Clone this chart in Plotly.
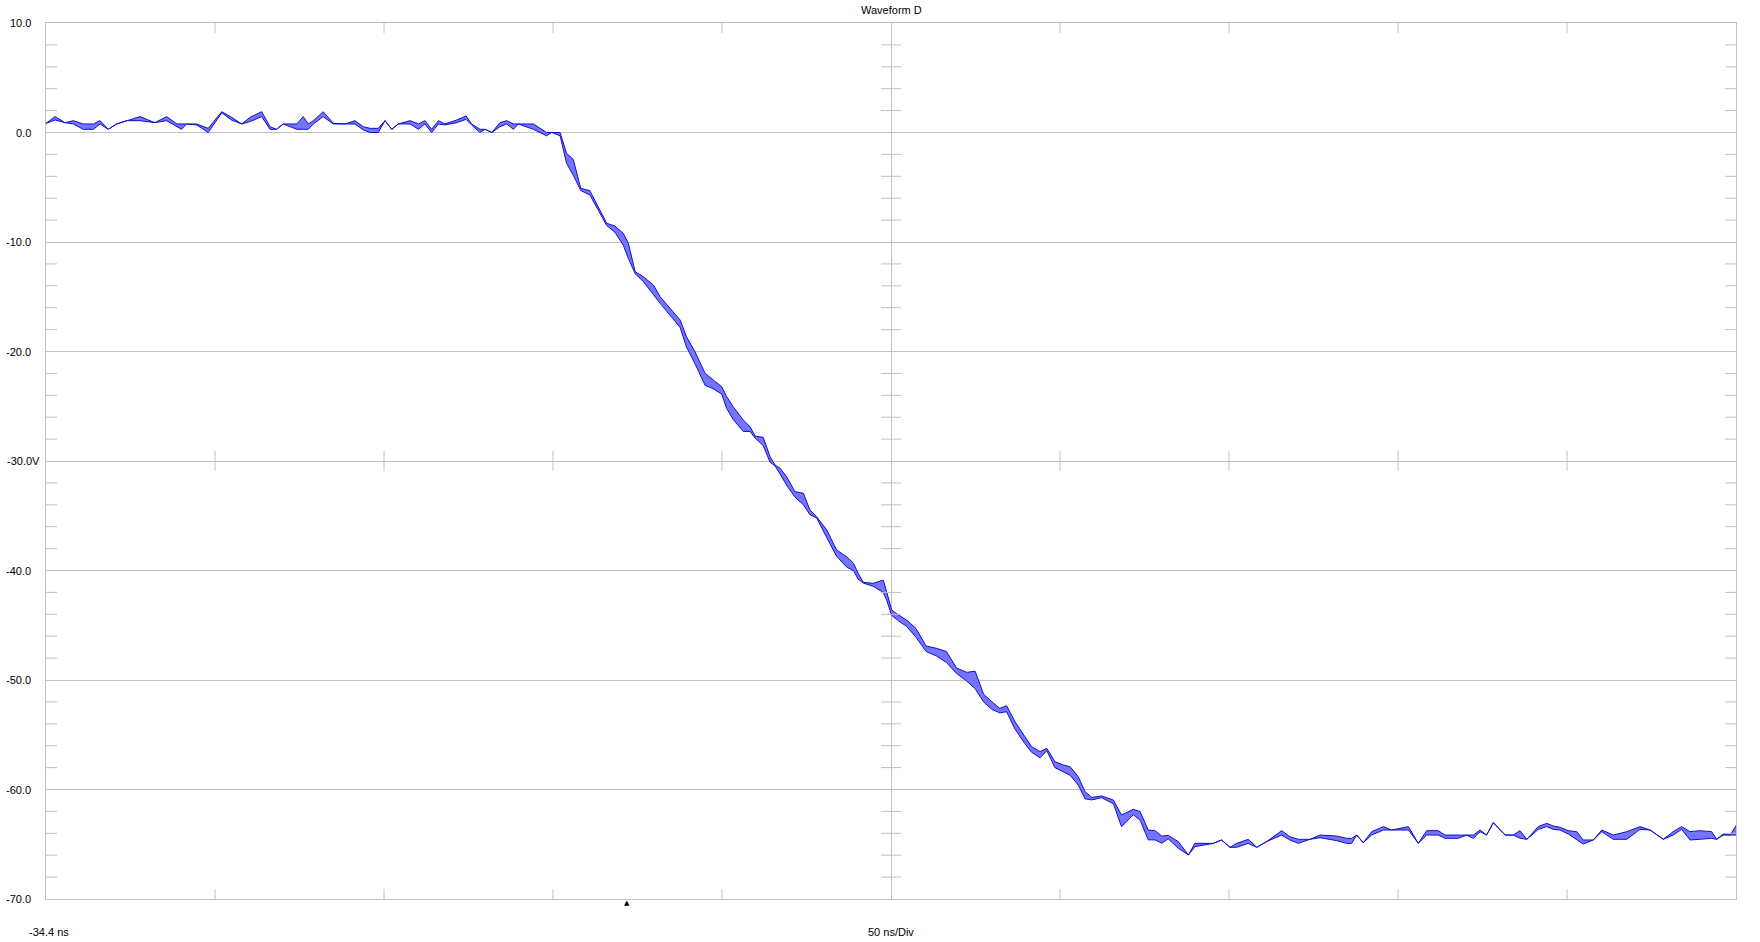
import plotly.graph_objects as go

# screen setup: -34.4 ns at left edge, 50 ns/div, 10 divisions; 10 V/div from 10 V to -70 V
t_start = -34.4
ns_per_div = 50
n_xdiv = 10
y_values = [10, 0, -10, -20, -30, -40, -50, -60, -70]
y_labels = ["10.0", "0.0", "-10.0", "-20.0", "-30.0V", "-40.0", "-50.0", "-60.0", "-70.0"]
trigger_ns = 137.5

# envelope of waveform D (max / min per sample)
# --- baseline before the edge
t_high = [-34.4, -31.7, -28.8, -26.3, -23.4, -20.4, -18.4, -16.0, -13.5, -10.5, -6.6, -2.2, 1.3,
          4.3, 5.7, 7.2, 10.2, 13.6, 17.6, 20.5, 23.5, 26.0, 29.4, 31.9, 33.8, 35.8, 39.8, 41.7,
          43.2, 44.7, 47.6, 50.6, 54.1, 57.0, 59.5, 61.5, 63.9, 65.9, 67.9, 69.8, 73.3, 75.8,
          77.7, 79.7, 81.7, 83.6, 87.1, 89.9, 91.5, 94.0, 95.5, 97.5, 99.9, 101.9, 103.9, 105.3,
          109.8, 113.7, 115.2, 117.7]
vmax_high = [0.84, 1.45, 0.90, 1.08, 0.78, 0.78, 1.08, 0.29, 0.78, 1.08, 1.45, 0.90, 1.45,
             0.78, 0.78, 0.78, 0.78, 0.38, 1.90, 1.39, 0.78, 1.39, 1.90, 0.53, 0.29, 0.78, 0.78, 1.45,
             0.78, 1.08, 1.90, 0.84, 0.78, 1.08, 0.53, 0.38, 0.38, 1.08, 0.29, 0.78, 1.08, 0.78,
             1.08, 0.29, 1.08, 0.78, 1.14, 1.51, 0.78, 0.29, 0.29, 0.00, 0.90, 1.08, 0.78, 0.78,
             0.78, 0.00, 0.00, 0.00]
vmin_high = [0.84, 1.14, 0.90, 0.78, 0.29, 0.29, 0.78, 0.29, 0.78, 1.08, 1.08, 0.90, 1.08,
             0.53, 0.29, 0.78, 0.69, 0.00, 1.80, 1.14, 0.78, 1.00, 1.45, 0.29, 0.29, 0.78, 0.29, 0.29,
             0.29, 0.78, 1.45, 0.78, 0.78, 0.78, 0.23, 0.00, 0.00, 1.08, 0.29, 0.78, 0.78, 0.29,
             0.78, 0.00, 0.78, 0.69, 0.90, 1.20, 0.69, 0.00, 0.29, 0.00, 0.53, 0.78, 0.29, 0.78,
             0.29, -0.30, 0.00, -0.30]

# --- falling edge
t_edge = [119.6, 121.6, 123.8, 126.5, 131.5, 133.9, 136.4, 137.9, 139.9, 142.3, 145.3, 147.3,
          153.2, 155.1, 157.6, 160.6, 163.0, 165.5, 167.0, 168.9, 171.9, 173.9, 175.4, 177.8,
          179.8, 181.3, 182.8, 184.7, 187.2, 189.7, 191.6, 193.6, 196.6, 199.5, 202.5, 204.5,
          205.9, 207.4, 210.4, 213.3, 214.3, 215.8, 217.8, 220.2, 223.0, 226.0, 229.0, 232.0,
          235.0, 238.0, 240.5, 243.0, 245.5, 247.8, 249.8, 252.3, 255.2, 257.2, 259.7, 261.7,
          264.1, 266.6, 268.6, 271.0, 273.0, 275.0, 277.9, 281.4, 283.8, 287.3, 289.3, 291.7,
          293.7, 295.7, 297.6]
vmax_edge = [-1.90, -2.45, -5.10, -5.31, -8.29, -8.54, -9.21, -10.12, -12.71, -13.17, -13.93, -15.00,
             -17.12, -18.65, -20.02, -21.99, -22.60, -23.21, -24.13, -25.04, -26.26, -26.87, -27.72, -27.84,
             -29.60, -30.37, -30.67, -31.43, -32.80, -32.95, -34.47, -35.08, -36.30, -38.13, -38.74, -39.34,
             -40.26, -41.08, -41.17, -40.87, -41.93, -43.61, -44.06, -44.52, -45.30, -46.90, -47.10, -47.40,
             -48.90, -49.30, -49.20, -51.30, -52.00, -52.59, -52.35, -53.81, -55.17, -56.09, -56.54, -56.24,
             -57.46, -57.76, -57.92, -58.83, -60.20, -60.72, -60.59, -60.96, -62.33, -61.81, -62.02, -63.70,
             -63.76, -64.25, -64.19]
vmin_edge = [-2.80, -3.90, -5.30, -5.70, -8.50, -9.10, -10.30, -11.50, -12.90, -13.60, -14.80, -15.60,
             -17.80, -19.60, -21.10, -23.10, -23.40, -23.90, -25.20, -26.20, -27.30, -27.30, -27.90, -28.60,
             -30.10, -30.45, -31.20, -32.20, -33.30, -34.00, -34.90, -35.20, -37.00, -38.70, -39.70, -40.00,
             -40.80, -41.15, -41.45, -42.00, -42.70, -44.10, -44.60, -45.10, -46.10, -47.40, -47.80, -48.40,
             -49.40, -50.10, -50.80, -52.00, -52.70, -53.00, -52.90, -54.50, -55.80, -56.60, -57.10, -56.45,
             -58.00, -58.40, -58.70, -59.60, -60.85, -60.95, -60.75, -61.30, -63.40, -62.30, -62.80, -64.60,
             -64.60, -64.90, -64.50]

# --- baseline after the edge
t_low = [300.6, 303.6, 305.5, 311.0, 313.4, 315.9, 317.9, 321.3, 323.8, 326.7, 331.2, 333.6, 336.1,
         339.6, 342.5, 347.5, 350.4, 351.9, 353.4, 355.3, 357.8, 361.3, 363.7, 368.7, 371.6, 374.1,
         377.5, 379.5, 383.4, 385.9, 387.9, 389.9, 391.8, 393.8, 397.3, 399.7, 401.7, 403.7, 407.1,
         409.6, 411.5, 413.5, 416.0, 418.5, 420.4, 423.4, 425.9, 429.3, 433.3, 437.2, 440.2, 444.1,
         447.0, 449.5, 452.0, 454.9, 458.4, 459.9, 461.8, 463.9, 465.6]
vmax_low = [-64.76, -65.98, -64.92, -64.92, -64.61, -65.28, -64.92, -64.55, -65.28, -64.76, -63.76, -64.31, -64.55,
            -64.55, -64.16, -64.25, -64.46, -64.46, -64.16, -64.86, -63.85, -63.39, -63.70, -63.39, -64.92, -63.76,
            -63.76, -64.16, -64.16, -64.16, -64.16, -63.70, -64.16, -63.03, -64.16, -64.16, -63.76, -64.55, -63.39,
            -63.09, -63.33, -63.45, -63.76, -63.85, -64.61, -64.61, -63.70, -64.16, -63.85, -63.39, -63.70, -64.55,
            -63.85, -63.39, -63.85, -63.76, -63.85, -64.55, -64.06, -64.16, -63.30]
vmin_low = [-65.37, -65.98, -65.22, -64.92, -64.61, -65.28, -65.28, -64.92, -65.28, -64.76, -64.16, -64.61, -64.92,
            -64.55, -64.40, -64.67, -64.92, -64.92, -64.16, -64.86, -64.16, -63.70, -63.70, -63.70, -64.92, -64.16,
            -64.16, -64.46, -64.46, -64.16, -64.46, -63.85, -64.16, -63.03, -64.16, -64.16, -64.46, -64.55, -63.64,
            -63.39, -63.64, -63.70, -64.06, -64.61, -64.98, -64.61, -63.85, -64.55, -64.55, -63.64, -63.70, -64.55,
            -64.16, -63.64, -64.61, -64.55, -64.46, -64.55, -64.16, -64.16, -64.16]

t_ns = t_high + t_edge + t_low
v_max = vmax_high + vmax_edge + vmax_low
v_min = vmin_high + vmin_edge + vmin_low

t_end = t_start + ns_per_div * n_xdiv
t_center = t_start + ns_per_div * n_xdiv / 2
grid = '#c0c0c0'
wave = '#1010c8'
font = dict(family='Liberation Sans, Arial, sans-serif', size=11, color='black')

fig = go.Figure()
fig.add_trace(go.Scatter(x=t_ns + t_ns[::-1], y=v_max + v_min[::-1], fill='toself',
                         fillcolor='#7474ff', line=dict(width=0), mode='lines', hoverinfo='skip'))
fig.add_trace(go.Scatter(x=t_ns, y=v_max, mode='lines', line=dict(color=wave, width=1)))
fig.add_trace(go.Scatter(x=t_ns, y=v_min, mode='lines', line=dict(color=wave, width=1)))

# little division marks
shapes = []
minor_v = [v for v in range(-68, 10, 2) if v % 10 != 0]
for v in minor_v:
    for anchor, a, b in [(t_start, 0, 11), (t_end, -11, 0), (t_center, -10, 10)]:
        shapes.append(dict(type='line', xref='x', yref='y', xsizemode='pixel', xanchor=anchor,
                           x0=a, x1=b, y0=v, y1=v, line=dict(color=grid, width=1)))
for k in range(1, n_xdiv):
    if k == n_xdiv // 2:
        continue
    t = t_start + k * ns_per_div
    for anchor, a, b in [(10, -10, 0), (-70, 0, 10), (-30, -10, 10)]:
        shapes.append(dict(type='line', xref='x', yref='y', ysizemode='pixel', yanchor=anchor,
                           y0=a, y1=b, x0=t, x1=t, line=dict(color=grid, width=1)))

annotations = []
for v, lab in zip(y_values, y_labels):
    shift = -4 if lab.endswith('V') else -13
    annotations.append(dict(x=0, xref='paper', y=v, yref='y', text=lab, showarrow=False,
                            xanchor='right', yanchor='middle', xshift=shift, font=font))
annotations.append(dict(x=0.5, xref='paper', y=1, yref='paper', yshift=13, text='Waveform D',
                        showarrow=False, xanchor='center', yanchor='middle', font=font))
annotations.append(dict(x=0, xref='paper', y=0, yref='paper', xshift=-19, yshift=-33,
                        text='%.1f ns' % t_start, showarrow=False, xanchor='left',
                        yanchor='middle', font=font))
annotations.append(dict(x=0.5, xref='paper', y=0, yref='paper', yshift=-33,
                        text='%d ns/Div' % ns_per_div, showarrow=False, xanchor='center',
                        yanchor='middle', font=font))
# trigger position marker under the time axis
annotations.append(dict(x=trigger_ns, xref='x', y=0, yref='paper', yshift=2, text='▲',
                        showarrow=False, xanchor='center', yanchor='top',
                        font=dict(family='DejaVu Sans', size=7, color='black')))

fig.update_layout(
    width=1760, height=942,
    margin=dict(l=46, r=24, t=23, b=43),
    paper_bgcolor='white', plot_bgcolor='white',
    showlegend=False,
    xaxis=dict(range=[t_start, t_end], showline=True, mirror=True, linecolor=grid, linewidth=1,
               tickvals=[t_center], showticklabels=False, ticks='', showgrid=True,
               gridcolor=grid, gridwidth=1, zeroline=False),
    yaxis=dict(range=[-70, 10], showline=True, mirror=True, linecolor=grid, linewidth=1,
               tickvals=y_values, showticklabels=False, ticks='', showgrid=True,
               gridcolor=grid, gridwidth=1, zeroline=False),
    shapes=shapes,
    annotations=annotations,
)

fig.write_html("out.html", config={'displayModeBar': False},
               post_script="document.body.style.margin='0';")
